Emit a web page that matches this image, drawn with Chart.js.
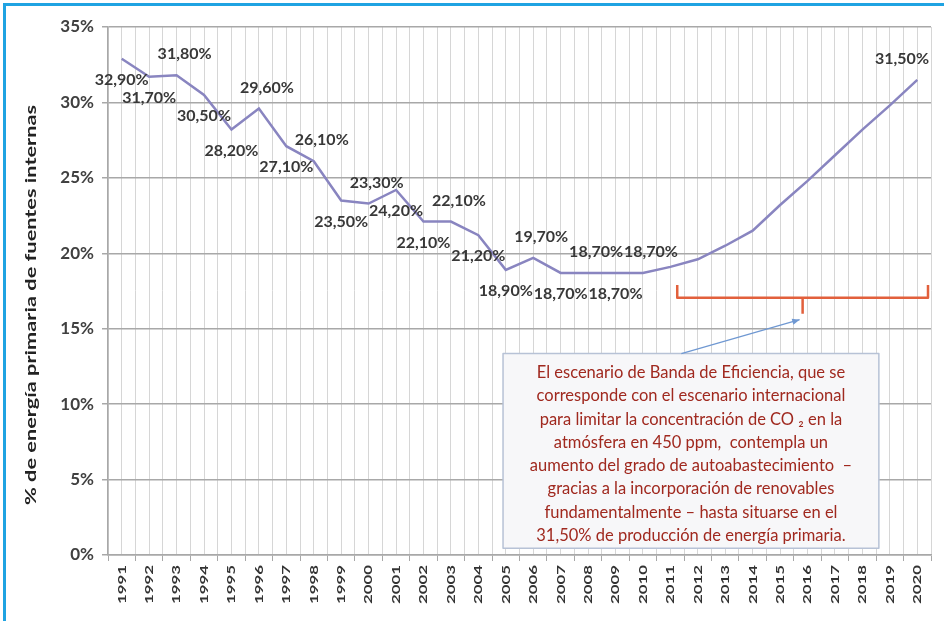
<!DOCTYPE html>
<html>
<head>
<meta charset="utf-8">
<script src="https://cdn.jsdelivr.net/npm/chart.js@4.4.1/dist/chart.umd.min.js"></script>
<style>
  html, body { margin: 0; padding: 0; background: #fff; }
  #wrap { width: 944px; height: 621px; }
</style>
</head>
<body>
<div id="wrap"><canvas id="chart" width="944" height="621"></canvas></div>
<script>
"use strict";

// years on the x axis
const years = ['1991','1992','1993','1994','1995','1996','1997','1998','1999','2000',
               '2001','2002','2003','2004','2005','2006','2007','2008','2009','2010',
               '2011','2012','2013','2014','2015','2016','2017','2018','2019','2020'];

// % of primary energy from domestic sources
const shares = [32.9, 31.7, 31.8, 30.5, 28.2, 29.6, 27.1, 26.1, 23.5, 23.3,
                24.2, 22.1, 22.1, 21.2, 18.9, 19.7, 18.7, 18.7, 18.7, 18.7,
                19.1, 19.6, 20.5, 21.5, 23.2, 24.8, 26.5, 28.2, 29.8, 31.5];

// value labels printed next to the line (null = no label)
const valueLabels = ['32,90%','31,70%','31,80%','30,50%','28,20%','29,60%','27,10%','26,10%','23,50%','23,30%',
                     '24,20%','22,10%','22,10%','21,20%','18,90%','19,70%','18,70%','18,70%','18,70%','18,70%',
                     null, null, null, null, null, null, null, null, null, '31,50%'];

// where each label sits: 'a' above, 'b' below
const labelSide = ['b','b','a','b','b','a','b','a','b','a',
                   'b','b','a','b','b','a','b','a','b','a',
                   '', '', '', '', '', '', '', '', '', 'a'];

const yTitle = '% de energía primaria de fuentes internas';

const noteLines = [
  'El escenario de Banda de Eficiencia, que se',
  'corresponde con el escenario internacional',
  'para limitar la concentración de CO \u2082 en la',
  'atmósfera en 450 ppm,  contempla un',
  'aumento del grado de autoabastecimiento  \u2013',
  'gracias a la incorporación de renovables',
  'fundamentalmente \u2013 hasta situarse en el',
  '31,50% de producción de energía primaria.'
];

const FONT = 'Lato, "Open Sans", sans-serif';
const STRETCH = 1.4;  // the original picture is taller than it is wide, rotated text gets stretched

// draws border, rotated texts, value labels, bracket, arrow and note box
const extrasPlugin = {
  id: 'extras',
  beforeDraw(chart) {
    const c = chart.ctx;
    c.save();
    c.fillStyle = '#1fa3e2';
    c.fillRect(3, 3, chart.width - 3, 3);
    c.fillRect(3, 3, 3, chart.height - 3);
    c.restore();
  },
  afterDraw(chart) {
    const c = chart.ctx;
    const xs = chart.scales.x;
    const ys = chart.scales.y;
    const area = chart.chartArea;
    c.save();

    // x tick labels, rotated and stretched
    c.font = 'bold 12px ' + FONT;
    c.fillStyle = '#333';
    c.textAlign = 'right';
    c.textBaseline = 'middle';
    years.forEach(function(_yr, _i) {
      c.save();
      c.translate(xs.getPixelForValue(_i), area.bottom + 10);
      c.scale(1, STRETCH);
      c.rotate(-Math.PI / 2);
      c.fillText(_yr, 0, 0);
      c.restore();
    });

    // y axis title
    c.save();
    c.font = 'bold 15px ' + FONT;
    c.fillStyle = '#222';
    c.textAlign = 'center';
    c.textBaseline = 'middle';
    c.translate(31, (area.top + area.bottom) / 2 + 14);
    c.scale(1, 1.45);
    c.rotate(-Math.PI / 2);
    c.fillText(yTitle, 0, 0);
    c.restore();

    // value labels
    c.font = 'bold 16px ' + FONT;
    c.fillStyle = '#383838';
    c.textAlign = 'center';
    c.textBaseline = 'middle';
    valueLabels.forEach(function(_lbl, _i) {
      if (!_lbl) { return; }
      let _px = xs.getPixelForValue(_i);
      let _py = ys.getPixelForValue(shares[_i]);
      let _w = c.measureText(_lbl).width;
      if (labelSide[_i] === 'a') { _px += 8; _py -= 21; } else { _py += 21; }
      if (_px + _w / 2 > area.right - 2) { _px = area.right - 2 - _w / 2; }
      c.fillText(_lbl, _px, _py);
    });

    // red bracket over the forecast years
    const _bl = xs.getPixelForValue(20.25);
    const _br = area.right - 3;
    const _bm = (_bl + _br) / 2;
    const _bTop = ys.getPixelForValue(17.9);
    const _bMid = ys.getPixelForValue(17.05);
    const _bTip = ys.getPixelForValue(16.0);
    c.strokeStyle = '#e2603c';
    c.lineWidth = 2.5;
    c.lineJoin = 'round';
    c.beginPath();
    c.moveTo(_bl, _bTop);
    c.lineTo(_bl, _bMid);
    c.lineTo(_br, _bMid);
    c.lineTo(_br, _bTop);
    c.moveTo(_bm, _bMid);
    c.lineTo(_bm, _bTip);
    c.stroke();

    // note box
    const _x0 = xs.getPixelForValue(13.9);
    const _x1 = xs.getPixelForValue(27.6);
    const _y0 = ys.getPixelForValue(13.35);
    const _y1 = ys.getPixelForValue(0.45);
    c.fillStyle = '#f7f7f9';
    c.fillRect(_x0, _y0, _x1 - _x0, _y1 - _y0);
    c.strokeStyle = '#b7c2d6';
    c.lineWidth = 1.5;
    c.strokeRect(_x0, _y0, _x1 - _x0, _y1 - _y0);

    // arrow from box to bracket
    const _ax0 = xs.getPixelForValue(20.4);
    const _ax1 = _bm - 3;
    const _ay1 = ys.getPixelForValue(15.6);
    c.strokeStyle = '#6f98d2';
    c.fillStyle = '#6f98d2';
    c.lineWidth = 1.2;
    c.beginPath();
    c.moveTo(_ax0, _y0);
    c.lineTo(_ax1, _ay1);
    c.stroke();
    const _ang = Math.atan2(_ay1 - _y0, _ax1 - _ax0);
    c.beginPath();
    c.moveTo(_ax1, _ay1);
    c.lineTo(_ax1 - 8 * Math.cos(_ang - 0.4), _ay1 - 8 * Math.sin(_ang - 0.4));
    c.lineTo(_ax1 - 8 * Math.cos(_ang + 0.4), _ay1 - 8 * Math.sin(_ang + 0.4));
    c.closePath();
    c.fill();

    // note text
    c.font = '16.5px ' + FONT;
    c.fillStyle = '#a0291f';
    c.textAlign = 'center';
    c.textBaseline = 'middle';
    const _cx = (_x0 + _x1) / 2;
    noteLines.forEach(function(_line, _i) {
      c.fillText(_line, _cx, _y0 + 19 + _i * 23.3);
    });

    c.restore();
  }
};

const chart = new Chart(document.getElementById('chart'), {
  type: 'line',
  data: {
    labels: years,
    datasets: [{
      data: shares,
      borderColor: '#8985c0',
      borderWidth: 2.5,
      pointRadius: 0,
      tension: 0,
      xAxisID: 'x',
      yAxisID: 'y'
    }]
  },
  options: {
    responsive: false,
    animation: false,
    devicePixelRatio: 1,
    layout: { padding: { left: 8, top: 27, right: 13, bottom: 0 } },
    plugins: { legend: { display: false }, tooltip: { enabled: false } },
    scales: {
      x: {
        type: 'category',
        offset: true,
        grid: { offset: true, color: '#d6d6d6', lineWidth: 1, tickLength: 6, tickColor: '#a8a8a8' },
        border: { color: '#a8a8a8', width: 1.5 },
        ticks: {
          autoSkip: false, maxRotation: 90, minRotation: 90, padding: 4,
          color: 'rgba(0,0,0,0)', font: { family: FONT, size: 12 }
        },
        afterFit: function(s) { s.height = 66; }
      },
      x2: {
        type: 'category',
        labels: years,
        position: 'bottom',
        offset: true,
        grid: { offset: false, color: '#d6d6d6', lineWidth: 1, drawTicks: false },
        border: { display: false },
        ticks: { display: false },
        afterFit: function(s) { s.height = 0; }
      },
      y: {
        min: 0, max: 35,
        ticks: {
          stepSize: 5, padding: 8, color: '#404040',
          font: { family: FONT, weight: 'bold', size: 17 },
          callback: function(v) { return v + '%'; }
        },
        grid: { color: '#a8a8a8', lineWidth: 1.5, tickLength: 6 },
        border: { color: '#a8a8a8', width: 1.5 },
        afterFit: function(s) { s.width = 100; }
      }
    }
  },
  plugins: [extrasPlugin]
});
</script>
</body>
</html>
